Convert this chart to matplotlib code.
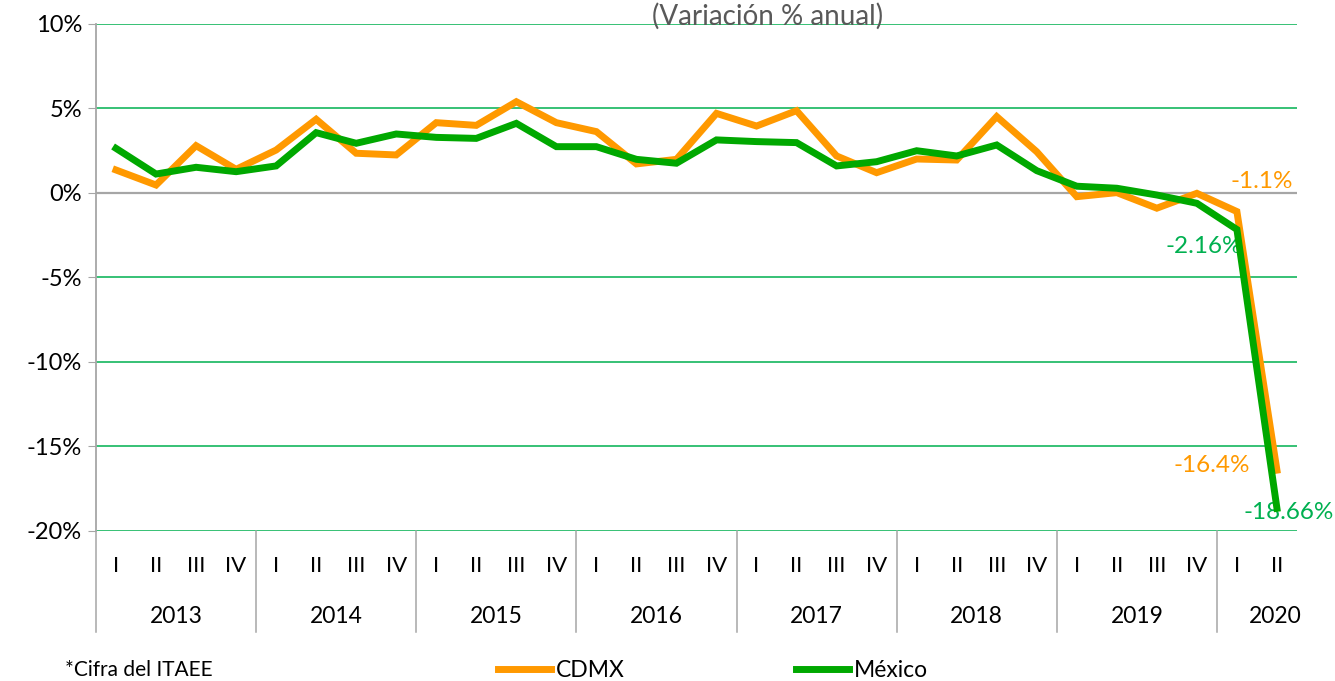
import numpy as np
import matplotlib
matplotlib.use("Agg")
from matplotlib import pyplot as plt
import matplotlib.transforms as mtransforms

plt.rcParams['font.family'] = ['Lato', 'DejaVu Sans']

years = ["2013", "2014", "2015", "2016", "2017", "2018", "2019", "2020"]
quarters = ["I", "II", "III", "IV"] * 7 + ["I", "II"]
cdmx = [1.36, 0.47, 2.8, 1.4, 2.54, 4.36, 2.35, 2.25, 4.16, 4.0, 5.4, 4.16,
        3.63, 1.72, 1.99, 4.71, 3.96, 4.87, 2.19, 1.2, 2.01, 1.95, 4.52, 2.44,
        -0.22, 0.02, -0.9, -0.02, -1.1, -16.4]
mexico = [2.64, 1.12, 1.52, 1.26, 1.6, 3.57, 2.94, 3.49, 3.29, 3.23, 4.12, 2.74,
          2.74, 1.99, 1.76, 3.14, 3.04, 2.98, 1.6, 1.85, 2.5, 2.19, 2.84, 1.32,
          0.4, 0.28, -0.12, -0.61, -2.16, -18.66]
yticks = [10, 5, 0, -5, -10, -15, -20]

orange = "#FF9900"
green = "#00A800"
lbl_green = "#00B050"
x = np.arange(len(cdmx))

fig = plt.figure(figsize=(13.35, 6.81), dpi=100)
ax = fig.add_axes([0.0719, 0.2203, 0.8996, 0.7445])

for t in yticks:
    if t == 0:
        ax.axhline(t, color="#A6A6A6", lw=1.6, zorder=1)
    else:
        ax.axhline(t, color="#00B050", lw=1.1, zorder=1)

ax.plot(x, cdmx, color=orange, lw=5, solid_joinstyle="miter", zorder=3, label="CDMX")
ax.plot(x, mexico, color=green, lw=5, solid_joinstyle="miter", zorder=4, label="México")

ax.set_xlim(-0.5, len(x) - 0.5)
ax.set_ylim(-20, 10)
ax.set_yticks(yticks)
ax.set_yticklabels(["%d%%" % t for t in yticks], fontsize=17)
ax.tick_params(axis="y", length=6, color="#A6A6A6", pad=4)
ax.set_xticks([])
for s in ["top", "right", "bottom"]:
    ax.spines[s].set_visible(False)
ax.spines["left"].set_color("#A6A6A6")
ax.spines["left"].set_linewidth(1.3)

# two-level category axis
trans = mtransforms.blended_transform_factory(ax.transData, ax.transAxes)
for i, q in enumerate(quarters):
    ax.text(i, -0.07, q, transform=trans, ha="center", va="center", fontsize=16)
for k, yr in enumerate(years):
    xc = 4 * k + 1.5 if k < 7 else 4 * k + 0.95
    ax.text(xc, -0.168, yr, transform=trans, ha="center", va="center", fontsize=16.5)
    ax.plot([4 * k - 0.5, 4 * k - 0.5], [0, -0.2], transform=trans, color="#A6A6A6",
            lw=1.1, clip_on=False)

# data labels
ax.text(28.63, 0.65, "-1.1%", color=orange, fontsize=17.5, ha="center", va="center")
ax.text(27.18, -3.14, "-2.16%", color=lbl_green, fontsize=17.5, ha="center", va="center")
ax.text(27.38, -16.15, "-16.4%", color=orange, fontsize=17.5, ha="center", va="center")
ax.text(29.3, -18.93, "-18.66%", color=lbl_green, fontsize=17.5, ha="center", va="center")

fig.text(0.575, 0.996, "(Variación % anual)", color="#595959", fontsize=20, ha="center", va="top")
fig.text(0.049, 0.002, "*Cifra del ITAEE", fontsize=15, ha="left", va="bottom")

fig.legend(loc="lower center", bbox_to_anchor=(0.534, -0.03), ncol=2, frameon=False,
           fontsize=16.5, handlelength=2.3, handletextpad=0.2, columnspacing=7.5)

fig.savefig("out.png", dpi=100)
